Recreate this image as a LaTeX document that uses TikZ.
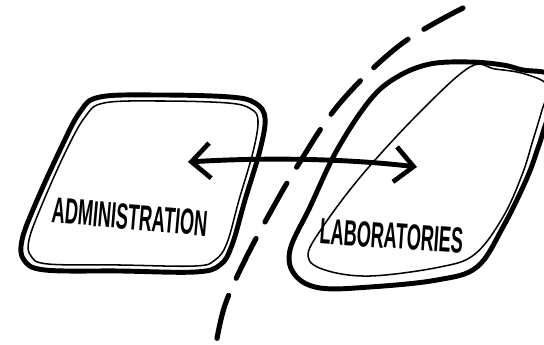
\documentclass[tikz,border=0pt]{standalone}
\usepackage{fontspec}
\newfontfamily\hand[FakeStretch=0.5]{Liberation Sans}
\usetikzlibrary{arrows.meta}
\begin{document}
\begin{tikzpicture}[x=0.03cm,y=-0.03cm,
    vien/.style={line width=4.2pt,line join=round},
    vienmanh/.style={line width=1.3pt,line join=round},
    nhan/.style={font=\hand\bfseries\fontsize{31}{31}\selectfont,inner sep=0pt},
    ranh/.style={line width=4.4pt,line cap=round,dash pattern=on 38pt off 16pt}]
    % Khung hình
    \useasboundingbox (0,0) rectangle (544,345);
    \clip (0,0) rectangle (544,345);

    % Khối hành chính
    \draw[vien] plot[smooth cycle,tension=0.6] coordinates {(100,97) (160,95) (230,97) (255,103) (265,118) (260,150) (245,200) (232,245) (220,265) (195,272) (120,271) (45,270) (24,260) (22,240) (35,205) (60,150) (80,112)};
    \draw[vienmanh] plot[smooth cycle,tension=0.6] coordinates {(104,103) (160,101) (228,103) (251,109) (258,121) (253,152) (239,200) (227,243) (215,260) (195,266) (120,265) (48,264) (31,256) (29,240) (41,207) (65,153) (85,117)};
    \node[nhan,rotate=-5] (admin) at (130,217) {ADMINISTRATION};

    % Khối phòng thí nghiệm
    \draw[vien] plot[smooth cycle,tension=0.6] coordinates {(430,64) (470,62) (503,65) (523,70) (550,74) (572,92) (550,115) (539,145) (527,178) (503,227) (477,267) (437,280) (370,287) (320,288) (295,275) (290,250) (310,207) (337,150) (370,100) (397,77)};
    \draw[vienmanh] plot[smooth cycle,tension=0.6] coordinates {(470,67) (420,112) (362,175) (322,228) (308,256) (325,270) (370,276) (440,267) (475,254) (503,217) (522,175) (533,140) (542,110) (548,86) (525,74) (495,69)};
    \node[nhan,rotate=-4] (lab) at (392,236) {LABORATORIES};

    % Mũi tên hai chiều
    \coordinate (dauA) at (188,162);
    \coordinate (dauB) at (417,167);
    \draw[line width=4.2pt,{Straight Barb[length=16pt,width=30pt,line width=4pt]}-{Straight Barb[length=16pt,width=30pt,line width=4pt]}]
        (dauA) .. controls (270,157) and (350,159) .. (dauB);

    % Đường ranh giới
    \draw[ranh] plot[smooth,tension=0.6] coordinates {(463,8) (400,45) (340,103) (298,165) (270,213) (245,260) (225,305) (216,344)};
\end{tikzpicture}
\end{document}
